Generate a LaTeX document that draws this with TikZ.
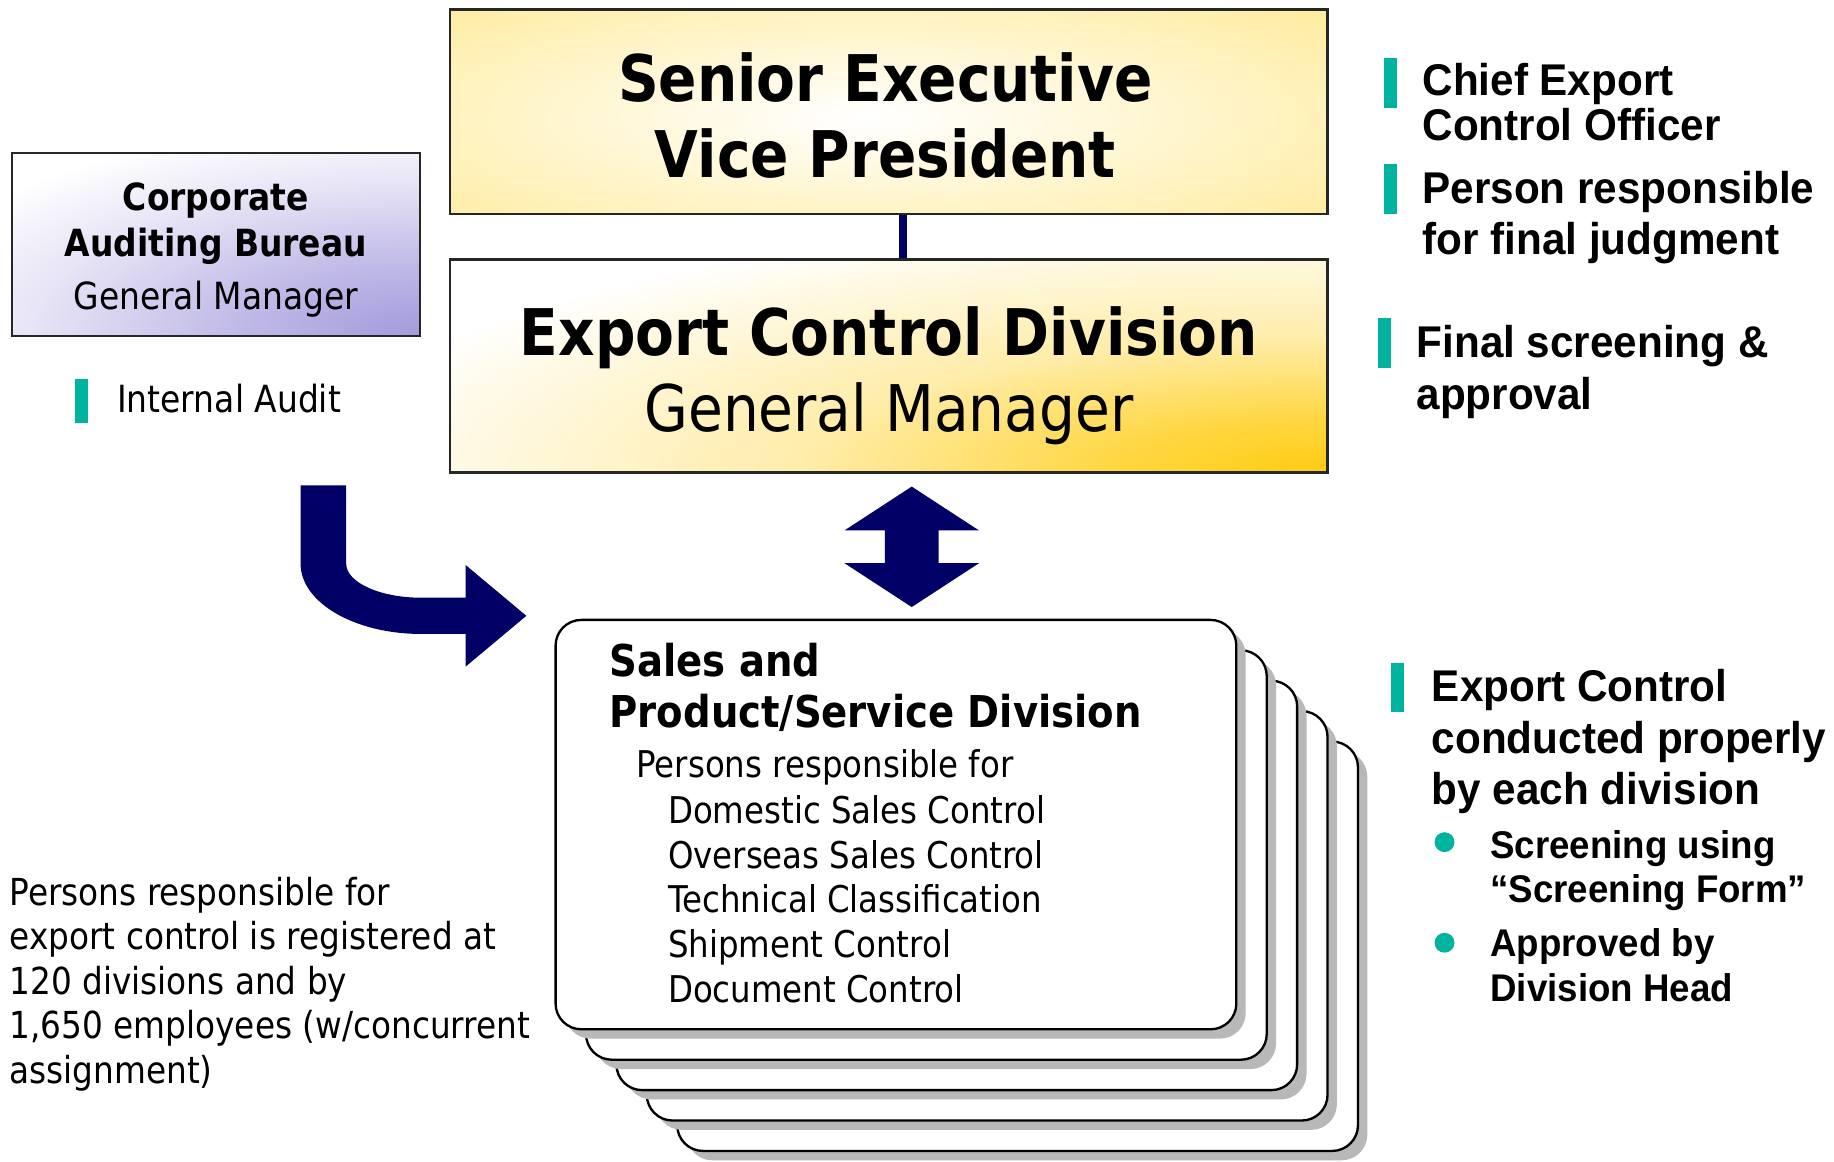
\documentclass[tikz,border=0pt]{standalone}
\usepackage{fontspec}
\setmainfont[FakeStretch=0.88]{DejaVu Sans}
\newfontfamily\arialfont[FakeStretch=0.95]{Liberation Sans}
\usetikzlibrary{positioning,shadows}

\definecolor{arrownavy}{HTML}{000066}
\definecolor{barteal}{HTML}{00B39E}
\definecolor{sevpyellow}{HTML}{FFE680}
\definecolor{ecdgold}{HTML}{FFCC11}
\definecolor{auditlilac}{HTML}{A39ADC}
\definecolor{cardshade}{HTML}{B8B8B8}

% soft glows used in the box fills
\pgfdeclareradialshading{ecdglow}{\pgfpoint{0bp}{0bp}}{color(0bp)=(ecdgold); color(5bp)=(ecdgold!80!white);
  color(13bp)=(ecdgold!35!white); color(25bp)=(white); color(50bp)=(white)}
\pgfdeclareradialshading{cabglow}{\pgfpoint{0bp}{0bp}}{color(0bp)=(auditlilac); color(8bp)=(auditlilac!70!white);
  color(18bp)=(auditlilac!25!white); color(25bp)=(white); color(50bp)=(white)}

\newcommand{\fsz}[2]{\fontsize{#1}{#2}\selectfont}

\begin{document}
\begin{tikzpicture}[x=1pt,y=-1pt,
    every node/.style={inner sep=0pt},
    orgbox/.style={draw=black!85,line width=2pt},
    tealbar/.style={fill=barteal,minimum width=11pt,minimum height=42pt},
    dotbullet/.style={circle,fill=barteal,minimum size=17pt},
    divcard/.style={draw,line width=2pt,rounded corners=22pt,fill=white,
                    minimum width=582pt,minimum height=350pt,
                    drop shadow={shadow xshift=8pt,shadow yshift=-8pt,fill=cardshade,opacity=1}},
    boxtxt/.style={anchor=base,align=center},
    lefttxt/.style={anchor=base west,align=left},
    notetxt/.style={anchor=base west,align=left,font=\arialfont\bfseries\fsz{38}{44}},
    subtxt/.style={anchor=base west,align=left,font=\arialfont\bfseries\fsz{33}{38}}]

\fill[white] (0,0) rectangle (1568,993);

% the two boxes on top
\node[orgbox,minimum width=750pt,minimum height=175pt,
      path picture={
        \fill[sevpyellow] (path picture bounding box.north west) rectangle (path picture bounding box.south east);
        \shade[inner color=white,outer color=sevpyellow] ([shift={(-20,5)}]path picture bounding box.center) ellipse (700 and 180);
      }] (sevp) at (760,95.5) {};
\node[boxtxt,font=\bfseries\fsz{55}{65}] (sevptxt) at (757,152) {Senior Executive\\Vice President};

\node[orgbox,minimum width=750pt,minimum height=182pt,
      path picture={
        \fill[white] (path picture bounding box.north west) rectangle (path picture bounding box.south east);
        \shade[shading=ecdglow] (path picture bounding box.south east) ellipse (880 and 225);
      }] (ecd) at (760,313) {};
\node[boxtxt,font=\fsz{55}{65}] (ecdtxt) at (760,369) {\bfseries Export Control Division\\General Manager};

\draw[draw=arrownavy,line width=6.5pt] ([xshift=12pt]sevp.south) -- ([xshift=12pt]ecd.north);

% auditing bureau
\node[orgbox,minimum width=349pt,minimum height=156pt,
      path picture={
        \fill[white] (path picture bounding box.north west) rectangle (path picture bounding box.south east);
        \shade[shading=cabglow] (path picture bounding box.south east) ellipse (470 and 185);
      }] (cab) at (184.5,209) {};
\node[boxtxt,font=\fsz{32}{39}] (cabtxt) at (184.5,265) {\bfseries Corporate\\\bfseries Auditing Bureau\\[7pt]General Manager};

\node[tealbar,minimum height=38pt] (auditbar) at (69.5,343) {};
\node[lefttxt,font=\fsz{32}{38}] (audittxt) at (100,353) {Internal Audit};

% block arrows
\fill[arrownavy] (257,415) -- (257,482) .. controls (257,515) and (303,542) .. (360,542)
  -- (398,542) -- (398,570) -- (450,526.5) -- (398,483) -- (398,511) -- (360,511)
  .. controls (325,511) and (296,498) .. (296,482) -- (296,415) -- cycle;

\coordinate (dblmid) at (779.5,467.5);
\begin{scope}[shift={(dblmid)}]
\fill[arrownavy] (0,-51.5) -- (57.5,-14) -- (23,-14) -- (23,14) -- (57.5,14) -- (0,51.5)
  -- (-57.5,14) -- (-23,14) -- (-23,-14) -- (-57.5,-14) -- cycle;
\end{scope}

% stack of division cards
\foreach \k in {4,3,2,1}
  \node[divcard] (card\k) at (766+26*\k,705+26*\k) {};
\node[divcard] (card0) at (766,705) {};

\node[lefttxt,font=\bfseries\fsz{37.5}{44}] (divtitle) at (521,622) {Sales and\\Product/Service Division};
\node[lefttxt,font=\fsz{31.5}{38}] (divrole) at (544,665) {Persons responsible for};
\node[lefttxt,font=\fsz{31.5}{38.25}] (divitems) at (571,857)
  {Domestic Sales Control\\Overseas Sales Control\\Technical Classification\\Shipment Control\\Document Control};

\node[lefttxt,font=\fsz{31.8}{38}] (regtxt) at (8,926)
  {Persons responsible for\\export control is registered at\\120 divisions and by\\1,650 employees (w/concurrent\\assignment)};

% notes on the right
\node[tealbar] (bar1) at (1188.5,71) {};
\node[notetxt,font=\arialfont\bfseries\fsz{38}{38}] (note1) at (1216,120) {Chief Export\\Control Officer};
\node[tealbar,minimum height=43pt] (bar2) at (1188.5,161.5) {};
\node[notetxt] (note2) at (1216,218) {Person responsible\\for final judgment};
\node[tealbar,minimum height=43pt] (bar3) at (1183.5,293.5) {};
\node[notetxt] (note3) at (1211,350) {Final screening \&\\approval};
\node[tealbar] (bar4) at (1194.5,588) {};
\node[notetxt] (note4) at (1224,688) {Export Control\\conducted properly\\by each division};
\node[dotbullet] (dot1) at (1235,720) {};
\node[subtxt] (sub1) at (1274,772) {Screening using\\“Screening Form”};
\node[dotbullet] (dot2) at (1235,806) {};
\node[subtxt] (sub2) at (1274,856) {Approved by\\Division Head};

\useasboundingbox (0,0) rectangle (1568,993);
\end{tikzpicture}
\end{document}
